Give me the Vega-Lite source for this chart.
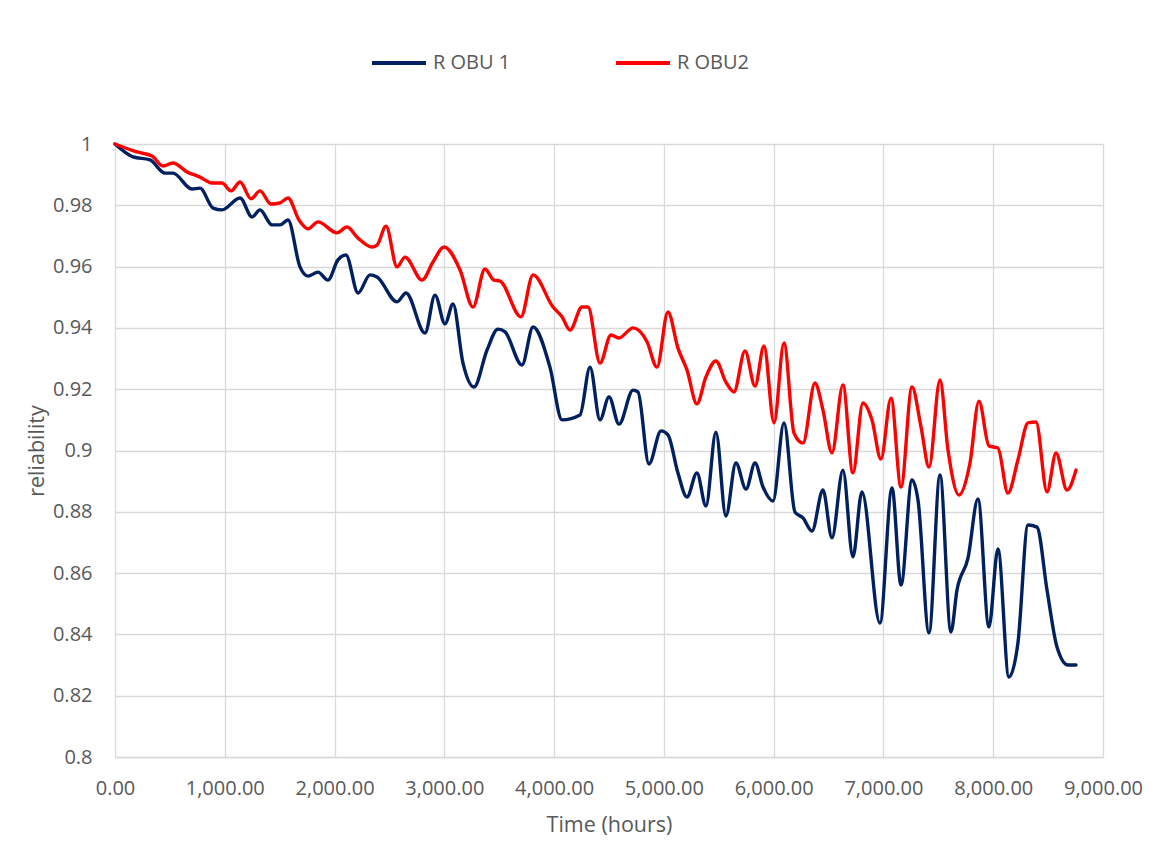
{
  "$schema": "https://vega.github.io/schema/vega-lite/v6.json",
  "autosize": "none",
  "width": 988,
  "height": 613,
  "padding": {"left": 115, "top": 144, "right": 50, "bottom": 111},
  "background": "white",
  "config": {
    "font": "Open Sans",
    "view": {"stroke": null},
    "axis": {"labelFont": "Open Sans", "titleFont": "Open Sans", "labelColor": "#595959", "titleColor": "#595959", "gridColor": "#d9d9d9", "gridWidth": 1.3, "ticks": false, "domain": false, "labelFontSize": 20, "titleFontSize": 21.5, "titleFontWeight": "normal"}
  },
  "data": {
    "values": [
      {"s": "R OBU 1", "t": 0, "v": 1.0},
      {"s": "R OBU 1", "t": 164, "v": 0.9958},
      {"s": "R OBU 1", "t": 319, "v": 0.9948},
      {"s": "R OBU 1", "t": 455, "v": 0.9905},
      {"s": "R OBU 1", "t": 528, "v": 0.9905},
      {"s": "R OBU 1", "t": 701, "v": 0.9853},
      {"s": "R OBU 1", "t": 774, "v": 0.9856},
      {"s": "R OBU 1", "t": 893, "v": 0.9791},
      {"s": "R OBU 1", "t": 975, "v": 0.9785},
      {"s": "R OBU 1", "t": 1139, "v": 0.9824},
      {"s": "R OBU 1", "t": 1248, "v": 0.9762},
      {"s": "R OBU 1", "t": 1321, "v": 0.9785},
      {"s": "R OBU 1", "t": 1430, "v": 0.9736},
      {"s": "R OBU 1", "t": 1503, "v": 0.9736},
      {"s": "R OBU 1", "t": 1576, "v": 0.9752},
      {"s": "R OBU 1", "t": 1685, "v": 0.9599},
      {"s": "R OBU 1", "t": 1758, "v": 0.9569},
      {"s": "R OBU 1", "t": 1849, "v": 0.9582},
      {"s": "R OBU 1", "t": 1940, "v": 0.9556},
      {"s": "R OBU 1", "t": 2031, "v": 0.9622},
      {"s": "R OBU 1", "t": 2104, "v": 0.9638},
      {"s": "R OBU 1", "t": 2214, "v": 0.9514},
      {"s": "R OBU 1", "t": 2323, "v": 0.9573},
      {"s": "R OBU 1", "t": 2387, "v": 0.9566},
      {"s": "R OBU 1", "t": 2569, "v": 0.9485},
      {"s": "R OBU 1", "t": 2651, "v": 0.9514},
      {"s": "R OBU 1", "t": 2824, "v": 0.9383},
      {"s": "R OBU 1", "t": 2915, "v": 0.9507},
      {"s": "R OBU 1", "t": 3006, "v": 0.9413},
      {"s": "R OBU 1", "t": 3079, "v": 0.9478},
      {"s": "R OBU 1", "t": 3170, "v": 0.9285},
      {"s": "R OBU 1", "t": 3270, "v": 0.9207},
      {"s": "R OBU 1", "t": 3389, "v": 0.9328},
      {"s": "R OBU 1", "t": 3489, "v": 0.9396},
      {"s": "R OBU 1", "t": 3553, "v": 0.9387},
      {"s": "R OBU 1", "t": 3707, "v": 0.9279},
      {"s": "R OBU 1", "t": 3808, "v": 0.9403},
      {"s": "R OBU 1", "t": 3962, "v": 0.9272},
      {"s": "R OBU 1", "t": 4072, "v": 0.9100},
      {"s": "R OBU 1", "t": 4236, "v": 0.9116},
      {"s": "R OBU 1", "t": 4327, "v": 0.9272},
      {"s": "R OBU 1", "t": 4418, "v": 0.9100},
      {"s": "R OBU 1", "t": 4500, "v": 0.9175},
      {"s": "R OBU 1", "t": 4591, "v": 0.9086},
      {"s": "R OBU 1", "t": 4719, "v": 0.9197},
      {"s": "R OBU 1", "t": 4764, "v": 0.9191},
      {"s": "R OBU 1", "t": 4864, "v": 0.8956},
      {"s": "R OBU 1", "t": 4974, "v": 0.9064},
      {"s": "R OBU 1", "t": 5037, "v": 0.9051},
      {"s": "R OBU 1", "t": 5128, "v": 0.8927},
      {"s": "R OBU 1", "t": 5210, "v": 0.8848},
      {"s": "R OBU 1", "t": 5301, "v": 0.8927},
      {"s": "R OBU 1", "t": 5383, "v": 0.8819},
      {"s": "R OBU 1", "t": 5474, "v": 0.9060},
      {"s": "R OBU 1", "t": 5565, "v": 0.8786},
      {"s": "R OBU 1", "t": 5656, "v": 0.8959},
      {"s": "R OBU 1", "t": 5748, "v": 0.8874},
      {"s": "R OBU 1", "t": 5830, "v": 0.8959},
      {"s": "R OBU 1", "t": 5903, "v": 0.8881},
      {"s": "R OBU 1", "t": 5994, "v": 0.8835},
      {"s": "R OBU 1", "t": 6094, "v": 0.9090},
      {"s": "R OBU 1", "t": 6194, "v": 0.8799},
      {"s": "R OBU 1", "t": 6267, "v": 0.8780},
      {"s": "R OBU 1", "t": 6349, "v": 0.8737},
      {"s": "R OBU 1", "t": 6449, "v": 0.8871},
      {"s": "R OBU 1", "t": 6531, "v": 0.8715},
      {"s": "R OBU 1", "t": 6631, "v": 0.8936},
      {"s": "R OBU 1", "t": 6722, "v": 0.8653},
      {"s": "R OBU 1", "t": 6804, "v": 0.8865},
      {"s": "R OBU 1", "t": 6968, "v": 0.8437},
      {"s": "R OBU 1", "t": 7078, "v": 0.8878},
      {"s": "R OBU 1", "t": 7160, "v": 0.8561},
      {"s": "R OBU 1", "t": 7260, "v": 0.8904},
      {"s": "R OBU 1", "t": 7315, "v": 0.8838},
      {"s": "R OBU 1", "t": 7415, "v": 0.8405},
      {"s": "R OBU 1", "t": 7515, "v": 0.8920},
      {"s": "R OBU 1", "t": 7615, "v": 0.8408},
      {"s": "R OBU 1", "t": 7670, "v": 0.8545},
      {"s": "R OBU 1", "t": 7770, "v": 0.8649},
      {"s": "R OBU 1", "t": 7861, "v": 0.8842},
      {"s": "R OBU 1", "t": 7961, "v": 0.8424},
      {"s": "R OBU 1", "t": 8043, "v": 0.8679},
      {"s": "R OBU 1", "t": 8143, "v": 0.8261},
      {"s": "R OBU 1", "t": 8225, "v": 0.8372},
      {"s": "R OBU 1", "t": 8317, "v": 0.8757},
      {"s": "R OBU 1", "t": 8399, "v": 0.8750},
      {"s": "R OBU 1", "t": 8490, "v": 0.8545},
      {"s": "R OBU 1", "t": 8581, "v": 0.8359},
      {"s": "R OBU 1", "t": 8681, "v": 0.8300},
      {"s": "R OBU 1", "t": 8754, "v": 0.8300},
      {"s": "R OBU2", "t": 0, "v": 1.0},
      {"s": "R OBU2", "t": 200, "v": 0.9974},
      {"s": "R OBU2", "t": 337, "v": 0.9961},
      {"s": "R OBU2", "t": 437, "v": 0.9928},
      {"s": "R OBU2", "t": 528, "v": 0.9938},
      {"s": "R OBU2", "t": 656, "v": 0.9909},
      {"s": "R OBU2", "t": 774, "v": 0.9892},
      {"s": "R OBU2", "t": 884, "v": 0.9873},
      {"s": "R OBU2", "t": 975, "v": 0.9873},
      {"s": "R OBU2", "t": 1057, "v": 0.9847},
      {"s": "R OBU2", "t": 1139, "v": 0.9876},
      {"s": "R OBU2", "t": 1239, "v": 0.9821},
      {"s": "R OBU2", "t": 1321, "v": 0.9847},
      {"s": "R OBU2", "t": 1421, "v": 0.9804},
      {"s": "R OBU2", "t": 1503, "v": 0.9808},
      {"s": "R OBU2", "t": 1576, "v": 0.9824},
      {"s": "R OBU2", "t": 1676, "v": 0.9752},
      {"s": "R OBU2", "t": 1758, "v": 0.9723},
      {"s": "R OBU2", "t": 1849, "v": 0.9746},
      {"s": "R OBU2", "t": 2022, "v": 0.9710},
      {"s": "R OBU2", "t": 2113, "v": 0.9729},
      {"s": "R OBU2", "t": 2214, "v": 0.9693},
      {"s": "R OBU2", "t": 2341, "v": 0.9664},
      {"s": "R OBU2", "t": 2387, "v": 0.9670},
      {"s": "R OBU2", "t": 2469, "v": 0.9732},
      {"s": "R OBU2", "t": 2569, "v": 0.9599},
      {"s": "R OBU2", "t": 2642, "v": 0.9631},
      {"s": "R OBU2", "t": 2797, "v": 0.9556},
      {"s": "R OBU2", "t": 2897, "v": 0.9615},
      {"s": "R OBU2", "t": 2997, "v": 0.9664},
      {"s": "R OBU2", "t": 3143, "v": 0.9589},
      {"s": "R OBU2", "t": 3261, "v": 0.9468},
      {"s": "R OBU2", "t": 3370, "v": 0.9592},
      {"s": "R OBU2", "t": 3452, "v": 0.9556},
      {"s": "R OBU2", "t": 3507, "v": 0.9553},
      {"s": "R OBU2", "t": 3698, "v": 0.9436},
      {"s": "R OBU2", "t": 3808, "v": 0.9573},
      {"s": "R OBU2", "t": 3990, "v": 0.9468},
      {"s": "R OBU2", "t": 4072, "v": 0.9436},
      {"s": "R OBU2", "t": 4145, "v": 0.9393},
      {"s": "R OBU2", "t": 4254, "v": 0.9468},
      {"s": "R OBU2", "t": 4309, "v": 0.9468},
      {"s": "R OBU2", "t": 4418, "v": 0.9285},
      {"s": "R OBU2", "t": 4518, "v": 0.9377},
      {"s": "R OBU2", "t": 4591, "v": 0.9367},
      {"s": "R OBU2", "t": 4719, "v": 0.9400},
      {"s": "R OBU2", "t": 4846, "v": 0.9355},
      {"s": "R OBU2", "t": 4937, "v": 0.9272},
      {"s": "R OBU2", "t": 5037, "v": 0.9452},
      {"s": "R OBU2", "t": 5128, "v": 0.9334},
      {"s": "R OBU2", "t": 5210, "v": 0.9263},
      {"s": "R OBU2", "t": 5301, "v": 0.9152},
      {"s": "R OBU2", "t": 5383, "v": 0.9240},
      {"s": "R OBU2", "t": 5474, "v": 0.9292},
      {"s": "R OBU2", "t": 5565, "v": 0.9223},
      {"s": "R OBU2", "t": 5638, "v": 0.9191},
      {"s": "R OBU2", "t": 5739, "v": 0.9325},
      {"s": "R OBU2", "t": 5830, "v": 0.9210},
      {"s": "R OBU2", "t": 5912, "v": 0.9341},
      {"s": "R OBU2", "t": 6003, "v": 0.9090},
      {"s": "R OBU2", "t": 6094, "v": 0.9351},
      {"s": "R OBU2", "t": 6185, "v": 0.9057},
      {"s": "R OBU2", "t": 6267, "v": 0.9024},
      {"s": "R OBU2", "t": 6376, "v": 0.9220},
      {"s": "R OBU2", "t": 6449, "v": 0.9132},
      {"s": "R OBU2", "t": 6531, "v": 0.8992},
      {"s": "R OBU2", "t": 6631, "v": 0.9214},
      {"s": "R OBU2", "t": 6722, "v": 0.8927},
      {"s": "R OBU2", "t": 6813, "v": 0.9155},
      {"s": "R OBU2", "t": 6895, "v": 0.9100},
      {"s": "R OBU2", "t": 6977, "v": 0.8972},
      {"s": "R OBU2", "t": 7069, "v": 0.9171},
      {"s": "R OBU2", "t": 7160, "v": 0.8881},
      {"s": "R OBU2", "t": 7260, "v": 0.9207},
      {"s": "R OBU2", "t": 7342, "v": 0.9077},
      {"s": "R OBU2", "t": 7415, "v": 0.8946},
      {"s": "R OBU2", "t": 7515, "v": 0.9230},
      {"s": "R OBU2", "t": 7588, "v": 0.9002},
      {"s": "R OBU2", "t": 7688, "v": 0.8855},
      {"s": "R OBU2", "t": 7788, "v": 0.8959},
      {"s": "R OBU2", "t": 7870, "v": 0.9161},
      {"s": "R OBU2", "t": 7961, "v": 0.9015},
      {"s": "R OBU2", "t": 8043, "v": 0.9008},
      {"s": "R OBU2", "t": 8134, "v": 0.8861},
      {"s": "R OBU2", "t": 8225, "v": 0.8969},
      {"s": "R OBU2", "t": 8317, "v": 0.9090},
      {"s": "R OBU2", "t": 8390, "v": 0.9093},
      {"s": "R OBU2", "t": 8490, "v": 0.8865},
      {"s": "R OBU2", "t": 8572, "v": 0.8992},
      {"s": "R OBU2", "t": 8672, "v": 0.8871},
      {"s": "R OBU2", "t": 8754, "v": 0.8936}
    ]
  },
  "mark": {"type": "line", "strokeWidth": 3.4, "interpolate": "monotone", "strokeCap": "round"},
  "encoding": {
    "x": {
      "field": "t", "type": "quantitative",
      "scale": {"domain": [0, 9000], "nice": false, "zero": false},
      "axis": {"values": [0, 1000, 2000, 3000, 4000, 5000, 6000, 7000, 8000, 9000], "format": ",.2f", "title": "Time (hours)", "labelPadding": 21, "titlePadding": 16, "labelFlush": false, "labelOverlap": false, "labelBound": false, "domain": true, "domainColor": "#d9d9d9", "domainWidth": 1.3}
    },
    "y": {
      "field": "v", "type": "quantitative",
      "scale": {"domain": [0.8, 1.0], "nice": false, "zero": false},
      "axis": {"values": [0.8, 0.82, 0.84, 0.86, 0.88, 0.9, 0.92, 0.94, 0.96, 0.98, 1.0], "format": ".2~f", "title": "reliability", "labelPadding": 23, "titlePadding": 4, "labelFlush": false, "labelOverlap": false}
    },
    "color": {
      "field": "s", "type": "nominal",
      "scale": {"domain": ["R OBU 1", "R OBU2"], "range": ["#002060", "#FF0000"]},
      "legend": {"title": null, "orient": "none", "legendX": 255, "legendY": -110, "direction": "horizontal", "symbolType": "stroke", "symbolSize": 2916, "symbolStrokeWidth": 4, "labelFontSize": 20, "labelColor": "#595959", "labelFont": "Open Sans", "columnPadding": 97, "labelOffset": 5}
    }
  }
}
